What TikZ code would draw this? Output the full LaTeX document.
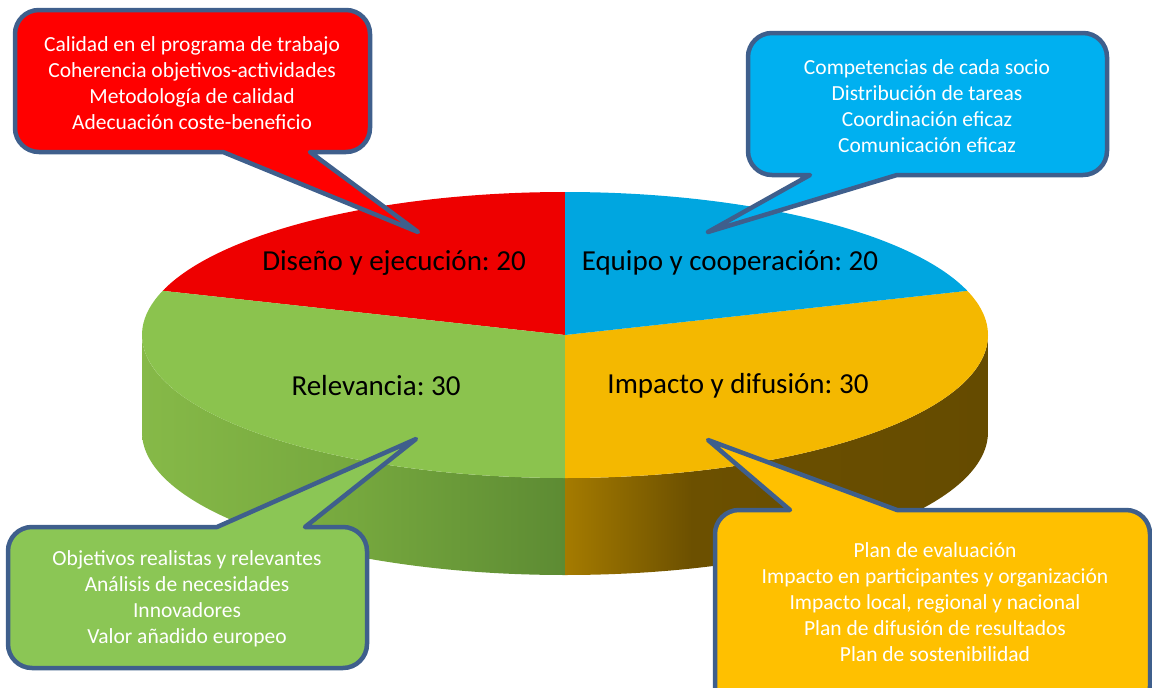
\documentclass[tikz,border=0pt]{standalone}
\usepackage{fontspec}
\setmainfont{Carlito}
\usetikzlibrary{calc}
\frenchspacing
\definecolor{piered}{HTML}{EE0000}
\definecolor{pieblue}{HTML}{00A6E0}
\definecolor{piegreen}{HTML}{8BC34E}
\definecolor{pieyellow}{HTML}{F4B800}
\definecolor{gsideA}{HTML}{86B948}
\definecolor{gsideB}{HTML}{76A83E}
\definecolor{gsideC}{HTML}{5D8B33}
\definecolor{ysideA}{HTML}{A57B00}
\definecolor{ysideB}{HTML}{6C5000}
\definecolor{ysideC}{HTML}{654B00}
\definecolor{boxred}{HTML}{FF0000}
\definecolor{boxblue}{HTML}{00B0F0}
\definecolor{boxgreen}{HTML}{8BC655}
\definecolor{boxyellow}{HTML}{FFC000}
\definecolor{calloutborder}{HTML}{3F5F8C}
\pgfdeclarehorizontalshading{greenside}{100bp}{color(0bp)=(gsideA); color(25bp)=(gsideA); color(50bp)=(gsideB); color(75bp)=(gsideC); color(100bp)=(gsideC)}
\pgfdeclarehorizontalshading{yellowside}{100bp}{color(0bp)=(ysideA); color(25bp)=(ysideA); color(40bp)=(ysideB); color(75bp)=(ysideC); color(100bp)=(ysideC)}
\begin{document}
\frenchspacing
\begin{tikzpicture}[x=1pt,y=1pt,line join=round,
  callout/.style={draw=calloutborder,line width=4.5pt,line join=round},
  boxtext/.style={text=white,align=center,font=\fontsize{21.5}{26}\selectfont},
  pielabel/.style={text=black,font=\fontsize{29}{34}\selectfont},
  ell/.style={x radius=423pt,y radius=143pt},
  rc/.style={radius=24pt}]
\useasboundingbox (0,0) rectangle (1152,-688);
\clip (0,0) rectangle (1152,-688);
\coordinate (C) at (565,-335);
% cylinder sides
\path[shading=greenside] (142,-335) arc[ell,start angle=180,end angle=270] -- ++(0,-97) arc[ell,start angle=270,end angle=180] -- cycle;
\path[shading=yellowside] (565,-478) arc[ell,start angle=270,end angle=360] -- ++(0,-97) arc[ell,start angle=360,end angle=270] -- cycle;
% top face
\fill[piered] (C) -- ++(90:423pt and 143pt) arc[ell,start angle=90,end angle=162] -- cycle;
\fill[piegreen] (C) -- ++(162:423pt and 143pt) arc[ell,start angle=162,end angle=270] -- cycle;
\fill[pieyellow] (C) -- ++(270:423pt and 143pt) arc[ell,start angle=270,end angle=378] -- cycle;
\fill[pieblue] (C) -- ++(18:423pt and 143pt) arc[ell,start angle=18,end angle=90] -- cycle;
% pie labels
\node[pielabel] (lred) at (394,-263) {Diseño y ejecución: 20};
\node[pielabel] (lblue) at (730,-263) {Equipo y cooperación: 20};
\node[pielabel] (lgreen) at (376,-386) {Relevancia: 30};
\node[pielabel] (lyellow) at (738,-386) {Impacto y difusión: 30};
% callout tips
\coordinate (redtip) at (418,-232);
\coordinate (bluetip) at (708,-232);
\coordinate (greentip) at (416,-439);
\coordinate (yellowtip) at (708,-440);
% callouts
\draw[callout,fill=boxred] (223,-152) -- (39,-152) arc[rc,start angle=270,end angle=180] -- (15,-34) arc[rc,start angle=180,end angle=90] -- (346,-10) arc[rc,start angle=90,end angle=0] -- (370,-128) arc[rc,start angle=0,end angle=-90] -- (310,-152) -- (redtip) -- cycle;
\draw[callout,fill=boxblue] (897,-175) -- (1083,-175) arc[rc,start angle=270,end angle=360] -- (1107,-57) arc[rc,start angle=0,end angle=90] -- (772,-33) arc[rc,start angle=90,end angle=180] -- (748,-151) arc[rc,start angle=180,end angle=270] -- (810,-175) -- (bluetip) -- cycle;
\draw[callout,fill=boxgreen] (217,-527) -- (32,-527) arc[rc,start angle=90,end angle=180] -- (8,-644) arc[rc,start angle=180,end angle=270] -- (343,-668) arc[rc,start angle=270,end angle=360] -- (367,-551) arc[rc,start angle=0,end angle=90] -- (305,-527) -- (greentip) -- cycle;
\draw[callout,fill=boxyellow] (790,-510) -- (739,-510) arc[rc,start angle=90,end angle=180] -- (715,-686) arc[rc,start angle=180,end angle=270] -- (1126,-710) arc[rc,start angle=270,end angle=360] -- (1150,-534) arc[rc,start angle=0,end angle=90] -- (897,-510) -- (yellowtip) -- cycle;
% callout texts
\node[boxtext] (tred) at (192,-83) {Calidad en el programa de trabajo\\Coherencia objetivos-actividades\\Metodología de calidad\\Adecuación coste-beneficio};
\node[boxtext] (tblue) at (927,-106) {Competencias de cada socio\\Distribución de tareas\\Coordinación eficaz\\Comunicación eficaz};
\node[boxtext] (tgreen) at (187,-599) {Objetivos realistas y relevantes\\Análisis de necesidades\\Innovadores\\Valor añadido europeo};
\node[boxtext] (tyellow) at (935,-602) {Plan de evaluación\\Impacto en participantes y organización\\Impacto local, regional y nacional\\Plan de difusión de resultados\\Plan de sostenibilidad};
\end{tikzpicture}
\end{document}
